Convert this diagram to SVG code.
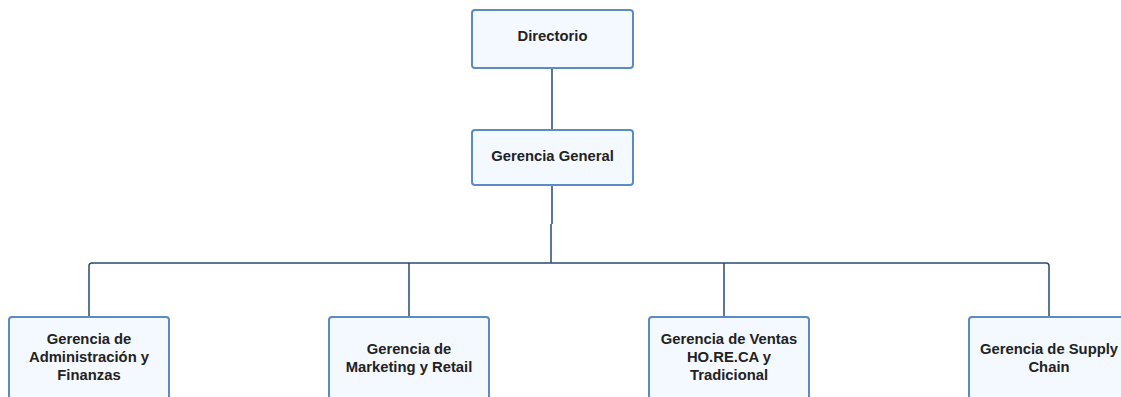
<svg xmlns="http://www.w3.org/2000/svg" width="1121" height="397" viewBox="0 0 1121 397">
<style>
.box{fill:#f4f9ff;stroke:#5a8bc3;stroke-width:2}
.t{font-family:"Liberation Sans",Arial,sans-serif;font-weight:bold;font-size:14.8px;fill:#222222;text-anchor:middle;dominant-baseline:central}
.c{fill:none;stroke:#2b4a6e;stroke-width:1.5}
</style>
<rect width="1121" height="397" fill="#ffffff"/>
<g id="connectors">
<path class="c" d="M552 68V130"/>
<path class="c" d="M552 185V224"/>
<path class="c" d="M551 224V263"/>
<path class="c" d="M89 317V266Q89 263 92 263H1046Q1049 263 1049 266V317"/>
<path class="c" d="M409 263V317"/>
<path class="c" d="M724 263V317"/>
</g>
<g id="directorio">
<rect class="box" x="472" y="10" width="161" height="58" rx="3"/>
<text class="t" x="552.5" y="36">Directorio</text>
</g>
<g id="gerencia-general">
<rect class="box" x="472" y="130" width="161" height="55" rx="3"/>
<text class="t" x="552.5" y="156">Gerencia General</text>
</g>
<g id="gerencia-admin">
<rect class="box" x="9" y="317" width="160" height="95" rx="3"/>
<text class="t" x="89" y="339">Gerencia de</text>
<text class="t" x="89" y="357">Administración y</text>
<text class="t" x="89" y="375">Finanzas</text>
</g>
<g id="gerencia-marketing">
<rect class="box" x="329" y="317" width="160" height="95" rx="3"/>
<text class="t" x="409" y="349">Gerencia de</text>
<text class="t" x="409" y="367">Marketing y Retail</text>
</g>
<g id="gerencia-ventas">
<rect class="box" x="649" y="317" width="160" height="95" rx="3"/>
<text class="t" x="729" y="339">Gerencia de Ventas</text>
<text class="t" x="729" y="357">HO.RE.CA y</text>
<text class="t" x="729" y="375">Tradicional</text>
</g>
<g id="gerencia-supply">
<rect class="box" x="969" y="317" width="160" height="95" rx="3"/>
<text class="t" x="1049" y="349">Gerencia de Supply</text>
<text class="t" x="1049" y="367">Chain</text>
</g>
</svg>
